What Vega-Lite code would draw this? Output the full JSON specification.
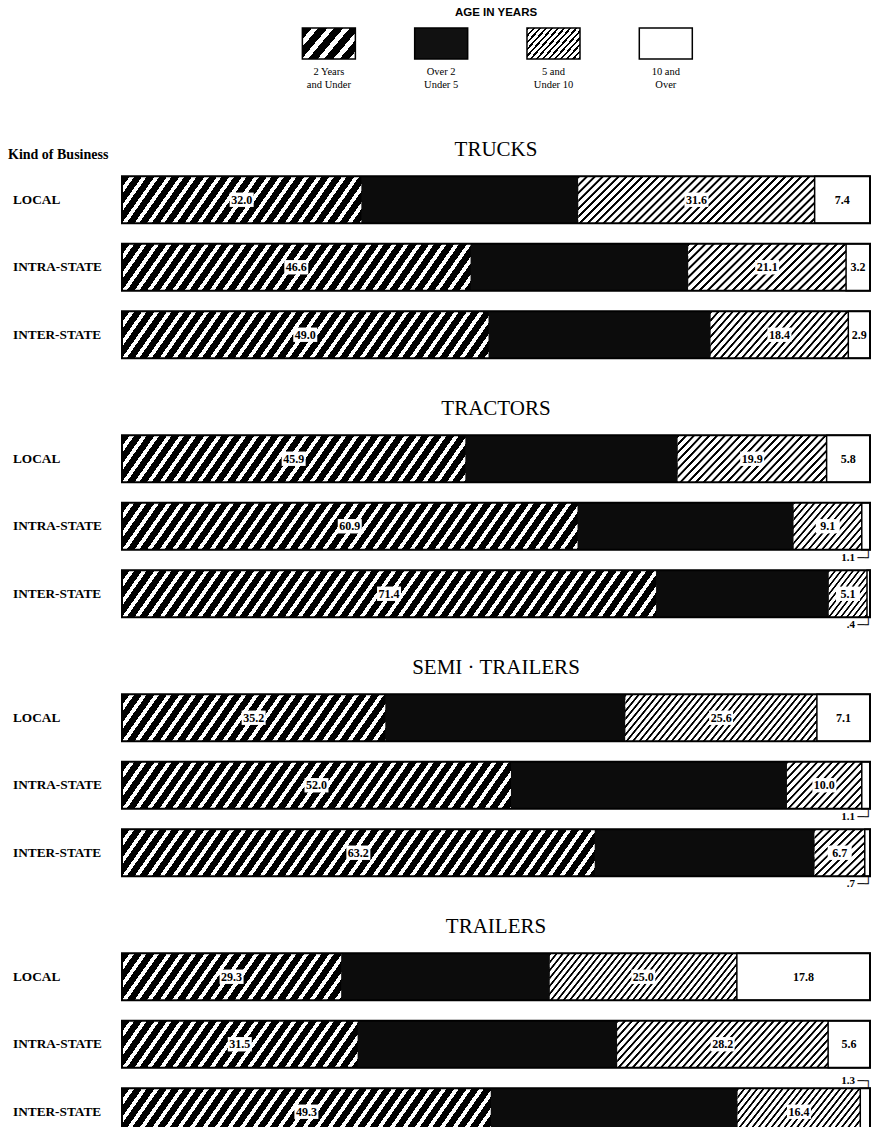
{
"$schema":"https://vega.github.io/schema/vega-lite/v6.json",
"padding":{"left":7,"top":6,"right":0,"bottom":0},
"bounds":"flush",
"spacing":56,
"datasets":{
"bars":[
{"section":"TRUCKS","kind":"LOCAL","k":1,"value":32.0},{"section":"TRUCKS","kind":"LOCAL","k":2,"value":29.0},{"section":"TRUCKS","kind":"LOCAL","k":3,"value":31.6},{"section":"TRUCKS","kind":"LOCAL","k":4,"value":7.4},
{"section":"TRUCKS","kind":"INTRA-STATE","k":1,"value":46.6},{"section":"TRUCKS","kind":"INTRA-STATE","k":2,"value":29.1},{"section":"TRUCKS","kind":"INTRA-STATE","k":3,"value":21.1},{"section":"TRUCKS","kind":"INTRA-STATE","k":4,"value":3.2},
{"section":"TRUCKS","kind":"INTER-STATE","k":1,"value":49.0},{"section":"TRUCKS","kind":"INTER-STATE","k":2,"value":29.7},{"section":"TRUCKS","kind":"INTER-STATE","k":3,"value":18.4},{"section":"TRUCKS","kind":"INTER-STATE","k":4,"value":2.9},
{"section":"TRACTORS","kind":"LOCAL","k":1,"value":45.9},{"section":"TRACTORS","kind":"LOCAL","k":2,"value":28.4},{"section":"TRACTORS","kind":"LOCAL","k":3,"value":19.9},{"section":"TRACTORS","kind":"LOCAL","k":4,"value":5.8},
{"section":"TRACTORS","kind":"INTRA-STATE","k":1,"value":60.9},{"section":"TRACTORS","kind":"INTRA-STATE","k":2,"value":28.9},{"section":"TRACTORS","kind":"INTRA-STATE","k":3,"value":9.1},{"section":"TRACTORS","kind":"INTRA-STATE","k":4,"value":1.1,"lbl":"1.1"},
{"section":"TRACTORS","kind":"INTER-STATE","k":1,"value":71.4},{"section":"TRACTORS","kind":"INTER-STATE","k":2,"value":23.1},{"section":"TRACTORS","kind":"INTER-STATE","k":3,"value":5.1},{"section":"TRACTORS","kind":"INTER-STATE","k":4,"value":0.4,"lbl":".4"},
{"section":"SEMI \u00b7 TRAILERS","kind":"LOCAL","k":1,"value":35.2},{"section":"SEMI \u00b7 TRAILERS","kind":"LOCAL","k":2,"value":32.1},{"section":"SEMI \u00b7 TRAILERS","kind":"LOCAL","k":3,"value":25.6},{"section":"SEMI \u00b7 TRAILERS","kind":"LOCAL","k":4,"value":7.1},
{"section":"SEMI \u00b7 TRAILERS","kind":"INTRA-STATE","k":1,"value":52.0},{"section":"SEMI \u00b7 TRAILERS","kind":"INTRA-STATE","k":2,"value":36.9},{"section":"SEMI \u00b7 TRAILERS","kind":"INTRA-STATE","k":3,"value":10.0},{"section":"SEMI \u00b7 TRAILERS","kind":"INTRA-STATE","k":4,"value":1.1,"lbl":"1.1"},
{"section":"SEMI \u00b7 TRAILERS","kind":"INTER-STATE","k":1,"value":63.2},{"section":"SEMI \u00b7 TRAILERS","kind":"INTER-STATE","k":2,"value":29.4},{"section":"SEMI \u00b7 TRAILERS","kind":"INTER-STATE","k":3,"value":6.7},{"section":"SEMI \u00b7 TRAILERS","kind":"INTER-STATE","k":4,"value":0.7,"lbl":".7"},
{"section":"TRAILERS","kind":"LOCAL","k":1,"value":29.3},{"section":"TRAILERS","kind":"LOCAL","k":2,"value":27.9},{"section":"TRAILERS","kind":"LOCAL","k":3,"value":25.0},{"section":"TRAILERS","kind":"LOCAL","k":4,"value":17.8},
{"section":"TRAILERS","kind":"INTRA-STATE","k":1,"value":31.5},{"section":"TRAILERS","kind":"INTRA-STATE","k":2,"value":34.7},{"section":"TRAILERS","kind":"INTRA-STATE","k":3,"value":28.2},{"section":"TRAILERS","kind":"INTRA-STATE","k":4,"value":5.6},
{"section":"TRAILERS","kind":"INTER-STATE","k":1,"value":49.3},{"section":"TRAILERS","kind":"INTER-STATE","k":2,"value":33.0},{"section":"TRAILERS","kind":"INTER-STATE","k":3,"value":16.4},{"section":"TRAILERS","kind":"INTER-STATE","k":4,"value":1.3,"lbl":"1.3"}
],
"legend":[
{"k":1,"label":"2 Years|and Under"},{"k":2,"label":"Over 2|Under 5"},{"k":3,"label":"5 and|Under 10"},{"k":4,"label":"10 and|Over"}
]
},
"data":{"name":"bars"},
"vconcat":[
{
"width":748,"height":82,
"data":{"name":"legend"},
"title":{"text":"AGE IN YEARS","font":"Liberation Sans","fontSize":11.5,"fontWeight":"bold","offset":9},
"encoding":{
"x":{"field":"k","type":"nominal","scale":{"domain":[0,1,2,3,4,5],"paddingInner":0.528,"paddingOuter":0.594,"align":0.51},"axis":{"title":"Kind of Business","labels":false,"ticks":false,"domain":false,"grid":false,"titleX":-114.5,"titleY":48.75,"titleAlign":"left","titleAngle":0,"titleBaseline":"alphabetic","titleFont":"Liberation Serif","titleFontSize":14,"titleFontWeight":"bold","titleColor":"#000"}},
"y":{"datum":"s","type":"nominal","scale":{"paddingInner":0,"paddingOuter":0.823,"align":0},"axis":null}
},
"layer":[
{"mark":{"type":"bar","stroke":"#000","strokeWidth":1.5},
"encoding":{"fill":{"condition":[
{"test":"datum.k==1","value":{"gradient":"linear","x1":0,"y1":0,"x2":1.2014,"y2":0.5897,"stops":[{"offset":0,"color":"#000"},{"offset":0.12,"color":"#000"},{"offset":0.12,"color":"#fff"},{"offset":0.2,"color":"#fff"},{"offset":0.2,"color":"#000"},{"offset":0.32,"color":"#000"},{"offset":0.32,"color":"#fff"},{"offset":0.4,"color":"#fff"},{"offset":0.4,"color":"#000"},{"offset":0.52,"color":"#000"},{"offset":0.52,"color":"#fff"},{"offset":0.6,"color":"#fff"},{"offset":0.6,"color":"#000"},{"offset":0.72,"color":"#000"},{"offset":0.72,"color":"#fff"},{"offset":0.8,"color":"#fff"},{"offset":0.8,"color":"#000"},{"offset":0.92,"color":"#000"},{"offset":0.92,"color":"#fff"},{"offset":1,"color":"#fff"}]}},
{"test":"datum.k==2","value":"#111"},
{"test":"datum.k==3","value":{"gradient":"linear","x1":0,"y1":0,"x2":1.1952,"y2":0.6295,"stops":[{"offset":0,"color":"#000"},{"offset":0.028,"color":"#000"},{"offset":0.028,"color":"#fff"},{"offset":0.075,"color":"#fff"},{"offset":0.075,"color":"#000"},{"offset":0.103,"color":"#000"},{"offset":0.103,"color":"#fff"},{"offset":0.15,"color":"#fff"},{"offset":0.15,"color":"#000"},{"offset":0.178,"color":"#000"},{"offset":0.178,"color":"#fff"},{"offset":0.225,"color":"#fff"},{"offset":0.225,"color":"#000"},{"offset":0.253,"color":"#000"},{"offset":0.253,"color":"#fff"},{"offset":0.3,"color":"#fff"},{"offset":0.3,"color":"#000"},{"offset":0.328,"color":"#000"},{"offset":0.328,"color":"#fff"},{"offset":0.375,"color":"#fff"},{"offset":0.375,"color":"#000"},{"offset":0.403,"color":"#000"},{"offset":0.403,"color":"#fff"},{"offset":0.45,"color":"#fff"},{"offset":0.45,"color":"#000"},{"offset":0.478,"color":"#000"},{"offset":0.478,"color":"#fff"},{"offset":0.525,"color":"#fff"},{"offset":0.525,"color":"#000"},{"offset":0.553,"color":"#000"},{"offset":0.553,"color":"#fff"},{"offset":0.6,"color":"#fff"},{"offset":0.6,"color":"#000"},{"offset":0.628,"color":"#000"},{"offset":0.628,"color":"#fff"},{"offset":0.675,"color":"#fff"},{"offset":0.675,"color":"#000"},{"offset":0.703,"color":"#000"},{"offset":0.703,"color":"#fff"},{"offset":0.75,"color":"#fff"},{"offset":0.75,"color":"#000"},{"offset":0.778,"color":"#000"},{"offset":0.778,"color":"#fff"},{"offset":0.825,"color":"#fff"},{"offset":0.825,"color":"#000"},{"offset":0.853,"color":"#000"},{"offset":0.853,"color":"#fff"},{"offset":0.9,"color":"#fff"},{"offset":0.9,"color":"#000"},{"offset":0.928,"color":"#000"},{"offset":0.928,"color":"#fff"},{"offset":0.975,"color":"#fff"},{"offset":0.975,"color":"#000"},{"offset":1,"color":"#000"}]}}
],"value":"#fff"}}},
{"mark":{"type":"text","baseline":"top","lineBreak":"|","dy":8.5,"font":"Liberation Serif","fontSize":10.5,"lineHeight":13,"color":"#000"},
"encoding":{"y":{"datum":"s","type":"nominal","bandPosition":1,"scale":{"paddingInner":0,"paddingOuter":0.823,"align":0},"axis":null},"text":{"field":"label"}}}
]
},
{
"title":"TRUCKS","width":748,"height":202.5,
"transform":[{"filter":{"field":"section","equal":"TRUCKS"}},{"stack":"value","groupby":["kind"],"sort":[{"field":"k"}],"as":["x0","x1"]}],
"encoding":{"y":{"field":"kind","type":"nominal","sort":["LOCAL","INTRA-STATE","INTER-STATE"],"title":null,"scale":{"paddingInner":0.304,"paddingOuter":0.152}}},
"layer":[
{"transform":[{"filter":"datum.k==1"}],"mark":{"type":"bar","style":"coarse"},"encoding":{"x":{"field":"x0","type":"quantitative","scale":{"domain":[0,100],"nice":false},"axis":null},"x2":{"datum":100}}},
{"transform":[{"filter":"datum.k==2"}],"mark":{"type":"bar","fill":"#0c0c0c"},"encoding":{"x":{"field":"x0","type":"quantitative"},"x2":{"field":"x1"}}},
{"transform":[{"filter":"datum.k==3&&datum.value>=13&&datum.value<23"}],"mark":{"type":"bar","style":"f3"},"encoding":{"x":{"field":"x0","type":"quantitative"},"x2":{"field":"x1"}}},
{"transform":[{"filter":"datum.k==3&&datum.value>=23"}],"mark":{"type":"bar","style":"f4"},"encoding":{"x":{"field":"x0","type":"quantitative"},"x2":{"field":"x1"}}},
{"transform":[{"filter":"datum.k==4"}],"mark":{"type":"bar","fill":"#fff","stroke":"#000","strokeWidth":1.5},"encoding":{"x":{"field":"x0","type":"quantitative"},"x2":{"field":"x1"}}},
{"transform":[{"filter":"datum.k==1"}],"mark":{"type":"bar","fillOpacity":0,"stroke":"#000","strokeWidth":2},"encoding":{"x":{"field":"x0","type":"quantitative"},"x2":{"datum":100}}},
{"mark":{"type":"point","shape":"M-1,-0.6H1V0.6H-1Z","filled":true,"fill":"#fff","opacity":1,"strokeWidth":0},"encoding":{"x":{"field":"value","type":"quantitative","stack":"zero","bandPosition":0.5},"order":{"field":"k","type":"quantitative"},"size":{"condition":{"test":"datum.k%2==0||datum.value<2","value":0},"value":576}}},
{"mark":{"type":"text","font":"Liberation Serif","fontWeight":"bold","fontSize":12,"color":"#000"},"encoding":{"x":{"field":"value","type":"quantitative","stack":"zero","bandPosition":0.5},"order":{"field":"k","type":"quantitative"},"text":{"condition":{"test":"datum.k==2||datum.value<2","value":""},"field":"value","type":"quantitative","format":".1f"}}}
]
},
{
"title":"TRACTORS","width":748,"height":202.5,
"transform":[{"filter":{"field":"section","equal":"TRACTORS"}},{"stack":"value","groupby":["kind"],"sort":[{"field":"k"}],"as":["x0","x1"]}],
"encoding":{"y":{"field":"kind","type":"nominal","sort":["LOCAL","INTRA-STATE","INTER-STATE"],"title":null,"scale":{"paddingInner":0.304,"paddingOuter":0.152}}},
"layer":[
{"transform":[{"filter":"datum.k==1"}],"mark":{"type":"bar","style":"coarse"},"encoding":{"x":{"field":"x0","type":"quantitative","scale":{"domain":[0,100],"nice":false},"axis":null},"x2":{"datum":100}}},
{"transform":[{"filter":"datum.k==2"}],"mark":{"type":"bar","fill":"#0c0c0c"},"encoding":{"x":{"field":"x0","type":"quantitative"},"x2":{"field":"x1"}}},
{"transform":[{"filter":"datum.k==3&&datum.value<8"}],"mark":{"type":"bar","style":"f1"},"encoding":{"x":{"field":"x0","type":"quantitative"},"x2":{"field":"x1"}}},
{"transform":[{"filter":"datum.k==3&&datum.value>=8&&datum.value<13"}],"mark":{"type":"bar","style":"f2"},"encoding":{"x":{"field":"x0","type":"quantitative"},"x2":{"field":"x1"}}},
{"transform":[{"filter":"datum.k==3&&datum.value>=13&&datum.value<23"}],"mark":{"type":"bar","style":"f3"},"encoding":{"x":{"field":"x0","type":"quantitative"},"x2":{"field":"x1"}}},
{"transform":[{"filter":"datum.k==4"}],"mark":{"type":"bar","fill":"#fff","stroke":"#000","strokeWidth":1.5},"encoding":{"x":{"field":"x0","type":"quantitative"},"x2":{"field":"x1"}}},
{"transform":[{"filter":"datum.k==1"}],"mark":{"type":"bar","fillOpacity":0,"stroke":"#000","strokeWidth":2},"encoding":{"x":{"field":"x0","type":"quantitative"},"x2":{"datum":100}}},
{"mark":{"type":"point","shape":"M-1,-0.6H1V0.6H-1Z","filled":true,"fill":"#fff","opacity":1,"strokeWidth":0},"encoding":{"x":{"field":"value","type":"quantitative","stack":"zero","bandPosition":0.5},"order":{"field":"k","type":"quantitative"},"size":{"condition":{"test":"datum.k%2==0||datum.value<2","value":0},"value":576}}},
{"mark":{"type":"text","font":"Liberation Serif","fontWeight":"bold","fontSize":12,"color":"#000"},"encoding":{"x":{"field":"value","type":"quantitative","stack":"zero","bandPosition":0.5},"order":{"field":"k","type":"quantitative"},"text":{"condition":{"test":"datum.k==2||datum.value<2","value":""},"field":"value","type":"quantitative","format":".1f"}}},
{"transform":[{"filter":"datum.k==4&&datum.value<2"}],"mark":{"type":"text","align":"right","baseline":"middle","dx":-15,"dy":8,"font":"Liberation Serif","fontWeight":"bold","fontSize":11,"color":"#000"},"encoding":{"x":{"datum":100,"type":"quantitative"},"y":{"field":"kind","type":"nominal","sort":["LOCAL","INTRA-STATE","INTER-STATE"],"title":null,"bandPosition":1,"scale":{"paddingInner":0.304,"paddingOuter":0.152}},"text":{"field":"lbl"}}},
{"transform":[{"filter":"datum.k==4&&datum.value<2"}],"mark":{"type":"text","align":"right","baseline":"alphabetic","dx":2,"dy":12,"font":"DejaVu Sans","fontSize":12,"color":"#000","text":"\u2500\u2518"},"encoding":{"x":{"datum":100,"type":"quantitative"},"y":{"field":"kind","type":"nominal","sort":["LOCAL","INTRA-STATE","INTER-STATE"],"title":null,"bandPosition":1,"scale":{"paddingInner":0.304,"paddingOuter":0.152}}}}
]
},
{
"title":"SEMI \u00b7 TRAILERS","width":748,"height":202.5,
"transform":[{"filter":{"field":"section","equal":"SEMI \u00b7 TRAILERS"}},{"stack":"value","groupby":["kind"],"sort":[{"field":"k"}],"as":["x0","x1"]}],
"encoding":{"y":{"field":"kind","type":"nominal","sort":["LOCAL","INTRA-STATE","INTER-STATE"],"title":null,"scale":{"paddingInner":0.304,"paddingOuter":0.152}}},
"layer":[
{"transform":[{"filter":"datum.k==1"}],"mark":{"type":"bar","style":"coarse"},"encoding":{"x":{"field":"x0","type":"quantitative","scale":{"domain":[0,100],"nice":false},"axis":null},"x2":{"datum":100}}},
{"transform":[{"filter":"datum.k==2"}],"mark":{"type":"bar","fill":"#0c0c0c"},"encoding":{"x":{"field":"x0","type":"quantitative"},"x2":{"field":"x1"}}},
{"transform":[{"filter":"datum.k==3&&datum.value<8"}],"mark":{"type":"bar","style":"f1"},"encoding":{"x":{"field":"x0","type":"quantitative"},"x2":{"field":"x1"}}},
{"transform":[{"filter":"datum.k==3&&datum.value>=8&&datum.value<13"}],"mark":{"type":"bar","style":"f2"},"encoding":{"x":{"field":"x0","type":"quantitative"},"x2":{"field":"x1"}}},
{"transform":[{"filter":"datum.k==3&&datum.value>=23"}],"mark":{"type":"bar","style":"f4"},"encoding":{"x":{"field":"x0","type":"quantitative"},"x2":{"field":"x1"}}},
{"transform":[{"filter":"datum.k==4"}],"mark":{"type":"bar","fill":"#fff","stroke":"#000","strokeWidth":1.5},"encoding":{"x":{"field":"x0","type":"quantitative"},"x2":{"field":"x1"}}},
{"transform":[{"filter":"datum.k==1"}],"mark":{"type":"bar","fillOpacity":0,"stroke":"#000","strokeWidth":2},"encoding":{"x":{"field":"x0","type":"quantitative"},"x2":{"datum":100}}},
{"mark":{"type":"point","shape":"M-1,-0.6H1V0.6H-1Z","filled":true,"fill":"#fff","opacity":1,"strokeWidth":0},"encoding":{"x":{"field":"value","type":"quantitative","stack":"zero","bandPosition":0.5},"order":{"field":"k","type":"quantitative"},"size":{"condition":{"test":"datum.k%2==0||datum.value<2","value":0},"value":576}}},
{"mark":{"type":"text","font":"Liberation Serif","fontWeight":"bold","fontSize":12,"color":"#000"},"encoding":{"x":{"field":"value","type":"quantitative","stack":"zero","bandPosition":0.5},"order":{"field":"k","type":"quantitative"},"text":{"condition":{"test":"datum.k==2||datum.value<2","value":""},"field":"value","type":"quantitative","format":".1f"}}},
{"transform":[{"filter":"datum.k==4&&datum.value<2"}],"mark":{"type":"text","align":"right","baseline":"middle","dx":-15,"dy":8,"font":"Liberation Serif","fontWeight":"bold","fontSize":11,"color":"#000"},"encoding":{"x":{"datum":100,"type":"quantitative"},"y":{"field":"kind","type":"nominal","sort":["LOCAL","INTRA-STATE","INTER-STATE"],"title":null,"bandPosition":1,"scale":{"paddingInner":0.304,"paddingOuter":0.152}},"text":{"field":"lbl"}}},
{"transform":[{"filter":"datum.k==4&&datum.value<2"}],"mark":{"type":"text","align":"right","baseline":"alphabetic","dx":2,"dy":12,"font":"DejaVu Sans","fontSize":12,"color":"#000","text":"\u2500\u2518"},"encoding":{"x":{"datum":100,"type":"quantitative"},"y":{"field":"kind","type":"nominal","sort":["LOCAL","INTRA-STATE","INTER-STATE"],"title":null,"bandPosition":1,"scale":{"paddingInner":0.304,"paddingOuter":0.152}}}}
]
},
{
"title":"TRAILERS","width":748,"height":202.5,
"transform":[{"filter":{"field":"section","equal":"TRAILERS"}},{"stack":"value","groupby":["kind"],"sort":[{"field":"k"}],"as":["x0","x1"]}],
"encoding":{"y":{"field":"kind","type":"nominal","sort":["LOCAL","INTRA-STATE","INTER-STATE"],"title":null,"scale":{"paddingInner":0.304,"paddingOuter":0.152}}},
"layer":[
{"transform":[{"filter":"datum.k==1"}],"mark":{"type":"bar","style":"coarse"},"encoding":{"x":{"field":"x0","type":"quantitative","scale":{"domain":[0,100],"nice":false},"axis":null},"x2":{"datum":100}}},
{"transform":[{"filter":"datum.k==2"}],"mark":{"type":"bar","fill":"#0c0c0c"},"encoding":{"x":{"field":"x0","type":"quantitative"},"x2":{"field":"x1"}}},
{"transform":[{"filter":"datum.k==3&&datum.value>=13&&datum.value<23"}],"mark":{"type":"bar","style":"f3"},"encoding":{"x":{"field":"x0","type":"quantitative"},"x2":{"field":"x1"}}},
{"transform":[{"filter":"datum.k==3&&datum.value>=23"}],"mark":{"type":"bar","style":"f4"},"encoding":{"x":{"field":"x0","type":"quantitative"},"x2":{"field":"x1"}}},
{"transform":[{"filter":"datum.k==4"}],"mark":{"type":"bar","fill":"#fff","stroke":"#000","strokeWidth":1.5},"encoding":{"x":{"field":"x0","type":"quantitative"},"x2":{"field":"x1"}}},
{"transform":[{"filter":"datum.k==1"}],"mark":{"type":"bar","fillOpacity":0,"stroke":"#000","strokeWidth":2},"encoding":{"x":{"field":"x0","type":"quantitative"},"x2":{"datum":100}}},
{"mark":{"type":"point","shape":"M-1,-0.6H1V0.6H-1Z","filled":true,"fill":"#fff","opacity":1,"strokeWidth":0},"encoding":{"x":{"field":"value","type":"quantitative","stack":"zero","bandPosition":0.5},"order":{"field":"k","type":"quantitative"},"size":{"condition":{"test":"datum.k%2==0||datum.value<2","value":0},"value":576}}},
{"mark":{"type":"text","font":"Liberation Serif","fontWeight":"bold","fontSize":12,"color":"#000"},"encoding":{"x":{"field":"value","type":"quantitative","stack":"zero","bandPosition":0.5},"order":{"field":"k","type":"quantitative"},"text":{"condition":{"test":"datum.k==2||datum.value<2","value":""},"field":"value","type":"quantitative","format":".1f"}}},
{"transform":[{"filter":"datum.k==4&&datum.value<2"}],"mark":{"type":"text","align":"right","baseline":"middle","dx":-15,"dy":-7,"font":"Liberation Serif","fontWeight":"bold","fontSize":11,"color":"#000"},"encoding":{"x":{"datum":100,"type":"quantitative"},"y":{"field":"kind","type":"nominal","sort":["LOCAL","INTRA-STATE","INTER-STATE"],"title":null,"bandPosition":0,"scale":{"paddingInner":0.304,"paddingOuter":0.152}},"text":{"field":"lbl"}}},
{"transform":[{"filter":"datum.k==4&&datum.value<2"}],"mark":{"type":"text","align":"right","baseline":"alphabetic","dx":2,"dy":-3,"font":"DejaVu Sans","fontSize":12,"color":"#000","text":"\u2500\u2510"},"encoding":{"x":{"datum":100,"type":"quantitative"},"y":{"field":"kind","type":"nominal","sort":["LOCAL","INTRA-STATE","INTER-STATE"],"title":null,"bandPosition":0,"scale":{"paddingInner":0.304,"paddingOuter":0.152}}}}
]
}
],
"config":{
"view":{"stroke":null},
"axis":{"grid":false},
"axisQuantitative":{"disable":true},
"axisY":{"labelAlign":"left","labelPadding":109.5,"ticks":false,"tickSize":0,"domain":false,"labelFont":"Liberation Serif","labelFontSize":13.3,"labelFontWeight":"bold","labelColor":"#000"},
"title":{"font":"Liberation Serif","fontSize":21,"fontWeight":"normal","anchor":"middle","frame":"group","offset":6.5,"baseline":"alphabetic","color":"#000"},
"style":{
"coarse":{"color":{"gradient":"linear","x1":0,"y1":0,"x2":1.042,"y2":0.0459,"stops":[
{"offset":0,"color":"#000"},{"offset":0.01,"color":"#000"},{"offset":0.01,"color":"#fff"},{"offset":0.016,"color":"#fff"},
{"offset":0.016,"color":"#000"},{"offset":0.026,"color":"#000"},{"offset":0.026,"color":"#fff"},{"offset":0.032,"color":"#fff"},
{"offset":0.032,"color":"#000"},{"offset":0.042,"color":"#000"},{"offset":0.042,"color":"#fff"},{"offset":0.048,"color":"#fff"},
{"offset":0.048,"color":"#000"},{"offset":0.058,"color":"#000"},{"offset":0.058,"color":"#fff"},{"offset":0.064,"color":"#fff"},
{"offset":0.064,"color":"#000"},{"offset":0.074,"color":"#000"},{"offset":0.074,"color":"#fff"},{"offset":0.08,"color":"#fff"},
{"offset":0.08,"color":"#000"},{"offset":0.09,"color":"#000"},{"offset":0.09,"color":"#fff"},{"offset":0.096,"color":"#fff"},
{"offset":0.096,"color":"#000"},{"offset":0.106,"color":"#000"},{"offset":0.106,"color":"#fff"},{"offset":0.112,"color":"#fff"},
{"offset":0.112,"color":"#000"},{"offset":0.122,"color":"#000"},{"offset":0.122,"color":"#fff"},{"offset":0.128,"color":"#fff"},
{"offset":0.128,"color":"#000"},{"offset":0.138,"color":"#000"},{"offset":0.138,"color":"#fff"},{"offset":0.144,"color":"#fff"},
{"offset":0.144,"color":"#000"},{"offset":0.154,"color":"#000"},{"offset":0.154,"color":"#fff"},{"offset":0.16,"color":"#fff"},
{"offset":0.16,"color":"#000"},{"offset":0.17,"color":"#000"},{"offset":0.17,"color":"#fff"},{"offset":0.176,"color":"#fff"},
{"offset":0.176,"color":"#000"},{"offset":0.186,"color":"#000"},{"offset":0.186,"color":"#fff"},{"offset":0.192,"color":"#fff"},
{"offset":0.192,"color":"#000"},{"offset":0.202,"color":"#000"},{"offset":0.202,"color":"#fff"},{"offset":0.208,"color":"#fff"},
{"offset":0.208,"color":"#000"},{"offset":0.218,"color":"#000"},{"offset":0.218,"color":"#fff"},{"offset":0.224,"color":"#fff"},
{"offset":0.224,"color":"#000"},{"offset":0.234,"color":"#000"},{"offset":0.234,"color":"#fff"},{"offset":0.24,"color":"#fff"},
{"offset":0.24,"color":"#000"},{"offset":0.25,"color":"#000"},{"offset":0.25,"color":"#fff"},{"offset":0.256,"color":"#fff"},
{"offset":0.256,"color":"#000"},{"offset":0.266,"color":"#000"},{"offset":0.266,"color":"#fff"},{"offset":0.272,"color":"#fff"},
{"offset":0.272,"color":"#000"},{"offset":0.282,"color":"#000"},{"offset":0.282,"color":"#fff"},{"offset":0.288,"color":"#fff"},
{"offset":0.288,"color":"#000"},{"offset":0.298,"color":"#000"},{"offset":0.298,"color":"#fff"},{"offset":0.304,"color":"#fff"},
{"offset":0.304,"color":"#000"},{"offset":0.314,"color":"#000"},{"offset":0.314,"color":"#fff"},{"offset":0.32,"color":"#fff"},
{"offset":0.32,"color":"#000"},{"offset":0.33,"color":"#000"},{"offset":0.33,"color":"#fff"},{"offset":0.336,"color":"#fff"},
{"offset":0.336,"color":"#000"},{"offset":0.346,"color":"#000"},{"offset":0.346,"color":"#fff"},{"offset":0.352,"color":"#fff"},
{"offset":0.352,"color":"#000"},{"offset":0.362,"color":"#000"},{"offset":0.362,"color":"#fff"},{"offset":0.368,"color":"#fff"},
{"offset":0.368,"color":"#000"},{"offset":0.378,"color":"#000"},{"offset":0.378,"color":"#fff"},{"offset":0.384,"color":"#fff"},
{"offset":0.384,"color":"#000"},{"offset":0.394,"color":"#000"},{"offset":0.394,"color":"#fff"},{"offset":0.4,"color":"#fff"},
{"offset":0.4,"color":"#000"},{"offset":0.41,"color":"#000"},{"offset":0.41,"color":"#fff"},{"offset":0.416,"color":"#fff"},
{"offset":0.416,"color":"#000"},{"offset":0.426,"color":"#000"},{"offset":0.426,"color":"#fff"},{"offset":0.432,"color":"#fff"},
{"offset":0.432,"color":"#000"},{"offset":0.442,"color":"#000"},{"offset":0.442,"color":"#fff"},{"offset":0.448,"color":"#fff"},
{"offset":0.448,"color":"#000"},{"offset":0.458,"color":"#000"},{"offset":0.458,"color":"#fff"},{"offset":0.464,"color":"#fff"},
{"offset":0.464,"color":"#000"},{"offset":0.474,"color":"#000"},{"offset":0.474,"color":"#fff"},{"offset":0.48,"color":"#fff"},
{"offset":0.48,"color":"#000"},{"offset":0.49,"color":"#000"},{"offset":0.49,"color":"#fff"},{"offset":0.496,"color":"#fff"},
{"offset":0.496,"color":"#000"},{"offset":0.506,"color":"#000"},{"offset":0.506,"color":"#fff"},{"offset":0.512,"color":"#fff"},
{"offset":0.512,"color":"#000"},{"offset":0.522,"color":"#000"},{"offset":0.522,"color":"#fff"},{"offset":0.528,"color":"#fff"},
{"offset":0.528,"color":"#000"},{"offset":0.538,"color":"#000"},{"offset":0.538,"color":"#fff"},{"offset":0.544,"color":"#fff"},
{"offset":0.544,"color":"#000"},{"offset":0.554,"color":"#000"},{"offset":0.554,"color":"#fff"},{"offset":0.56,"color":"#fff"},
{"offset":0.56,"color":"#000"},{"offset":0.57,"color":"#000"},{"offset":0.57,"color":"#fff"},{"offset":0.576,"color":"#fff"},
{"offset":0.576,"color":"#000"},{"offset":0.586,"color":"#000"},{"offset":0.586,"color":"#fff"},{"offset":0.592,"color":"#fff"},
{"offset":0.592,"color":"#000"},{"offset":0.602,"color":"#000"},{"offset":0.602,"color":"#fff"},{"offset":0.608,"color":"#fff"},
{"offset":0.608,"color":"#000"},{"offset":0.618,"color":"#000"},{"offset":0.618,"color":"#fff"},{"offset":0.624,"color":"#fff"},
{"offset":0.624,"color":"#000"},{"offset":0.634,"color":"#000"},{"offset":0.634,"color":"#fff"},{"offset":0.64,"color":"#fff"},
{"offset":0.64,"color":"#000"},{"offset":0.65,"color":"#000"},{"offset":0.65,"color":"#fff"},{"offset":0.656,"color":"#fff"},
{"offset":0.656,"color":"#000"},{"offset":0.666,"color":"#000"},{"offset":0.666,"color":"#fff"},{"offset":0.672,"color":"#fff"},
{"offset":0.672,"color":"#000"},{"offset":0.682,"color":"#000"},{"offset":0.682,"color":"#fff"},{"offset":0.688,"color":"#fff"},
{"offset":0.688,"color":"#000"},{"offset":0.698,"color":"#000"},{"offset":0.698,"color":"#fff"},{"offset":0.704,"color":"#fff"},
{"offset":0.704,"color":"#000"},{"offset":0.714,"color":"#000"},{"offset":0.714,"color":"#fff"},{"offset":0.72,"color":"#fff"},
{"offset":0.72,"color":"#000"},{"offset":0.73,"color":"#000"},{"offset":0.73,"color":"#fff"},{"offset":0.736,"color":"#fff"},
{"offset":0.736,"color":"#000"},{"offset":0.746,"color":"#000"},{"offset":0.746,"color":"#fff"},{"offset":0.752,"color":"#fff"},
{"offset":0.752,"color":"#000"},{"offset":0.762,"color":"#000"},{"offset":0.762,"color":"#fff"},{"offset":0.768,"color":"#fff"},
{"offset":0.768,"color":"#000"},{"offset":0.778,"color":"#000"},{"offset":0.778,"color":"#fff"},{"offset":0.784,"color":"#fff"},
{"offset":0.784,"color":"#000"},{"offset":0.794,"color":"#000"},{"offset":0.794,"color":"#fff"},{"offset":0.8,"color":"#fff"},
{"offset":0.8,"color":"#000"},{"offset":0.81,"color":"#000"},{"offset":0.81,"color":"#fff"},{"offset":0.816,"color":"#fff"},
{"offset":0.816,"color":"#000"},{"offset":0.826,"color":"#000"},{"offset":0.826,"color":"#fff"},{"offset":0.832,"color":"#fff"},
{"offset":0.832,"color":"#000"},{"offset":0.842,"color":"#000"},{"offset":0.842,"color":"#fff"},{"offset":0.848,"color":"#fff"},
{"offset":0.848,"color":"#000"},{"offset":0.858,"color":"#000"},{"offset":0.858,"color":"#fff"},{"offset":0.864,"color":"#fff"},
{"offset":0.864,"color":"#000"},{"offset":0.874,"color":"#000"},{"offset":0.874,"color":"#fff"},{"offset":0.88,"color":"#fff"},
{"offset":0.88,"color":"#000"},{"offset":0.89,"color":"#000"},{"offset":0.89,"color":"#fff"},{"offset":0.896,"color":"#fff"},
{"offset":0.896,"color":"#000"},{"offset":0.906,"color":"#000"},{"offset":0.906,"color":"#fff"},{"offset":0.912,"color":"#fff"},
{"offset":0.912,"color":"#000"},{"offset":0.922,"color":"#000"},{"offset":0.922,"color":"#fff"},{"offset":0.928,"color":"#fff"},
{"offset":0.928,"color":"#000"},{"offset":0.938,"color":"#000"},{"offset":0.938,"color":"#fff"},{"offset":0.944,"color":"#fff"},
{"offset":0.944,"color":"#000"},{"offset":0.954,"color":"#000"},{"offset":0.954,"color":"#fff"},{"offset":0.96,"color":"#fff"},
{"offset":0.96,"color":"#000"},{"offset":0.97,"color":"#000"},{"offset":0.97,"color":"#fff"},{"offset":0.976,"color":"#fff"},
{"offset":0.976,"color":"#000"},{"offset":0.986,"color":"#000"},{"offset":0.986,"color":"#fff"},{"offset":0.992,"color":"#fff"},
{"offset":0.992,"color":"#000"},{"offset":1,"color":"#000"}
]}},
"f1":{"color":{"gradient":"linear","x1":0,"y1":0,"x2":1.0202,"y2":0.979,"stops":[
{"offset":0,"color":"#000"},{"offset":0.018,"color":"#000"},{"offset":0.027,"color":"#fff"},{"offset":0.071,"color":"#fff"},
{"offset":0.08,"color":"#000"},{"offset":0.098,"color":"#000"},{"offset":0.107,"color":"#fff"},{"offset":0.151,"color":"#fff"},
{"offset":0.16,"color":"#000"},{"offset":0.178,"color":"#000"},{"offset":0.187,"color":"#fff"},{"offset":0.231,"color":"#fff"},
{"offset":0.24,"color":"#000"},{"offset":0.258,"color":"#000"},{"offset":0.267,"color":"#fff"},{"offset":0.311,"color":"#fff"},
{"offset":0.32,"color":"#000"},{"offset":0.338,"color":"#000"},{"offset":0.347,"color":"#fff"},{"offset":0.391,"color":"#fff"},
{"offset":0.4,"color":"#000"},{"offset":0.418,"color":"#000"},{"offset":0.427,"color":"#fff"},{"offset":0.471,"color":"#fff"},
{"offset":0.48,"color":"#000"},{"offset":0.498,"color":"#000"},{"offset":0.507,"color":"#fff"},{"offset":0.551,"color":"#fff"},
{"offset":0.56,"color":"#000"},{"offset":0.578,"color":"#000"},{"offset":0.587,"color":"#fff"},{"offset":0.631,"color":"#fff"},
{"offset":0.64,"color":"#000"},{"offset":0.658,"color":"#000"},{"offset":0.667,"color":"#fff"},{"offset":0.711,"color":"#fff"},
{"offset":0.72,"color":"#000"},{"offset":0.738,"color":"#000"},{"offset":0.747,"color":"#fff"},{"offset":0.791,"color":"#fff"},
{"offset":0.8,"color":"#000"},{"offset":0.818,"color":"#000"},{"offset":0.827,"color":"#fff"},{"offset":0.871,"color":"#fff"},
{"offset":0.88,"color":"#000"},{"offset":0.898,"color":"#000"},{"offset":0.907,"color":"#fff"},{"offset":0.951,"color":"#fff"},
{"offset":0.96,"color":"#000"},{"offset":0.978,"color":"#000"},{"offset":0.987,"color":"#fff"},{"offset":1,"color":"#fff"}
]}},
"f2":{"color":{"gradient":"linear","x1":0,"y1":0,"x2":1.1787,"y2":0.6984,"stops":[
{"offset":0,"color":"#000"},{"offset":0.014,"color":"#000"},{"offset":0.021,"color":"#fff"},{"offset":0.0555,"color":"#fff"},
{"offset":0.0625,"color":"#000"},{"offset":0.0765,"color":"#000"},{"offset":0.0835,"color":"#fff"},{"offset":0.118,"color":"#fff"},
{"offset":0.125,"color":"#000"},{"offset":0.139,"color":"#000"},{"offset":0.146,"color":"#fff"},{"offset":0.1805,"color":"#fff"},
{"offset":0.1875,"color":"#000"},{"offset":0.2015,"color":"#000"},{"offset":0.2085,"color":"#fff"},{"offset":0.243,"color":"#fff"},
{"offset":0.25,"color":"#000"},{"offset":0.264,"color":"#000"},{"offset":0.271,"color":"#fff"},{"offset":0.3055,"color":"#fff"},
{"offset":0.3125,"color":"#000"},{"offset":0.3265,"color":"#000"},{"offset":0.3335,"color":"#fff"},{"offset":0.368,"color":"#fff"},
{"offset":0.375,"color":"#000"},{"offset":0.389,"color":"#000"},{"offset":0.396,"color":"#fff"},{"offset":0.4305,"color":"#fff"},
{"offset":0.4375,"color":"#000"},{"offset":0.4515,"color":"#000"},{"offset":0.4585,"color":"#fff"},{"offset":0.493,"color":"#fff"},
{"offset":0.5,"color":"#000"},{"offset":0.514,"color":"#000"},{"offset":0.521,"color":"#fff"},{"offset":0.5555,"color":"#fff"},
{"offset":0.5625,"color":"#000"},{"offset":0.5765,"color":"#000"},{"offset":0.5835,"color":"#fff"},{"offset":0.618,"color":"#fff"},
{"offset":0.625,"color":"#000"},{"offset":0.639,"color":"#000"},{"offset":0.646,"color":"#fff"},{"offset":0.6805,"color":"#fff"},
{"offset":0.6875,"color":"#000"},{"offset":0.7015,"color":"#000"},{"offset":0.7085,"color":"#fff"},{"offset":0.743,"color":"#fff"},
{"offset":0.75,"color":"#000"},{"offset":0.764,"color":"#000"},{"offset":0.771,"color":"#fff"},{"offset":0.8055,"color":"#fff"},
{"offset":0.8125,"color":"#000"},{"offset":0.8265,"color":"#000"},{"offset":0.8335,"color":"#fff"},{"offset":0.868,"color":"#fff"},
{"offset":0.875,"color":"#000"},{"offset":0.889,"color":"#000"},{"offset":0.896,"color":"#fff"},{"offset":0.9305,"color":"#fff"},
{"offset":0.9375,"color":"#000"},{"offset":0.9515,"color":"#000"},{"offset":0.9585,"color":"#fff"},{"offset":1,"color":"#fff"}
]}},
"f3":{"color":{"gradient":"linear","x1":0,"y1":0,"x2":1.1929,"y2":0.359,"stops":[
{"offset":0,"color":"#000"},{"offset":0.01,"color":"#000"},{"offset":0.014,"color":"#fff"},{"offset":0.036,"color":"#fff"},
{"offset":0.04,"color":"#000"},{"offset":0.05,"color":"#000"},{"offset":0.054,"color":"#fff"},{"offset":0.076,"color":"#fff"},
{"offset":0.08,"color":"#000"},{"offset":0.09,"color":"#000"},{"offset":0.094,"color":"#fff"},{"offset":0.116,"color":"#fff"},
{"offset":0.12,"color":"#000"},{"offset":0.13,"color":"#000"},{"offset":0.134,"color":"#fff"},{"offset":0.156,"color":"#fff"},
{"offset":0.16,"color":"#000"},{"offset":0.17,"color":"#000"},{"offset":0.174,"color":"#fff"},{"offset":0.196,"color":"#fff"},
{"offset":0.2,"color":"#000"},{"offset":0.21,"color":"#000"},{"offset":0.214,"color":"#fff"},{"offset":0.236,"color":"#fff"},
{"offset":0.24,"color":"#000"},{"offset":0.25,"color":"#000"},{"offset":0.254,"color":"#fff"},{"offset":0.276,"color":"#fff"},
{"offset":0.28,"color":"#000"},{"offset":0.29,"color":"#000"},{"offset":0.294,"color":"#fff"},{"offset":0.316,"color":"#fff"},
{"offset":0.32,"color":"#000"},{"offset":0.33,"color":"#000"},{"offset":0.334,"color":"#fff"},{"offset":0.356,"color":"#fff"},
{"offset":0.36,"color":"#000"},{"offset":0.37,"color":"#000"},{"offset":0.374,"color":"#fff"},{"offset":0.396,"color":"#fff"},
{"offset":0.4,"color":"#000"},{"offset":0.41,"color":"#000"},{"offset":0.414,"color":"#fff"},{"offset":0.436,"color":"#fff"},
{"offset":0.44,"color":"#000"},{"offset":0.45,"color":"#000"},{"offset":0.454,"color":"#fff"},{"offset":0.476,"color":"#fff"},
{"offset":0.48,"color":"#000"},{"offset":0.49,"color":"#000"},{"offset":0.494,"color":"#fff"},{"offset":0.516,"color":"#fff"},
{"offset":0.52,"color":"#000"},{"offset":0.53,"color":"#000"},{"offset":0.534,"color":"#fff"},{"offset":0.556,"color":"#fff"},
{"offset":0.56,"color":"#000"},{"offset":0.57,"color":"#000"},{"offset":0.574,"color":"#fff"},{"offset":0.596,"color":"#fff"},
{"offset":0.6,"color":"#000"},{"offset":0.61,"color":"#000"},{"offset":0.614,"color":"#fff"},{"offset":0.636,"color":"#fff"},
{"offset":0.64,"color":"#000"},{"offset":0.65,"color":"#000"},{"offset":0.654,"color":"#fff"},{"offset":0.676,"color":"#fff"},
{"offset":0.68,"color":"#000"},{"offset":0.69,"color":"#000"},{"offset":0.694,"color":"#fff"},{"offset":0.716,"color":"#fff"},
{"offset":0.72,"color":"#000"},{"offset":0.73,"color":"#000"},{"offset":0.734,"color":"#fff"},{"offset":0.756,"color":"#fff"},
{"offset":0.76,"color":"#000"},{"offset":0.77,"color":"#000"},{"offset":0.774,"color":"#fff"},{"offset":0.796,"color":"#fff"},
{"offset":0.8,"color":"#000"},{"offset":0.81,"color":"#000"},{"offset":0.814,"color":"#fff"},{"offset":0.836,"color":"#fff"},
{"offset":0.84,"color":"#000"},{"offset":0.85,"color":"#000"},{"offset":0.854,"color":"#fff"},{"offset":0.876,"color":"#fff"},
{"offset":0.88,"color":"#000"},{"offset":0.89,"color":"#000"},{"offset":0.894,"color":"#fff"},{"offset":0.916,"color":"#fff"},
{"offset":0.92,"color":"#000"},{"offset":0.93,"color":"#000"},{"offset":0.934,"color":"#fff"},{"offset":0.956,"color":"#fff"},
{"offset":0.96,"color":"#000"},{"offset":0.97,"color":"#000"},{"offset":0.974,"color":"#fff"},{"offset":1,"color":"#fff"}
]}},
"f4":{"color":{"gradient":"linear","x1":0,"y1":0,"x2":1.1538,"y2":0.2307,"stops":[
{"offset":0,"color":"#000"},{"offset":0.007,"color":"#000"},{"offset":0.01,"color":"#fff"},{"offset":0.025,"color":"#fff"},
{"offset":0.028,"color":"#000"},{"offset":0.035,"color":"#000"},{"offset":0.038,"color":"#fff"},{"offset":0.053,"color":"#fff"},
{"offset":0.056,"color":"#000"},{"offset":0.063,"color":"#000"},{"offset":0.066,"color":"#fff"},{"offset":0.081,"color":"#fff"},
{"offset":0.084,"color":"#000"},{"offset":0.091,"color":"#000"},{"offset":0.094,"color":"#fff"},{"offset":0.109,"color":"#fff"},
{"offset":0.112,"color":"#000"},{"offset":0.119,"color":"#000"},{"offset":0.122,"color":"#fff"},{"offset":0.137,"color":"#fff"},
{"offset":0.14,"color":"#000"},{"offset":0.147,"color":"#000"},{"offset":0.15,"color":"#fff"},{"offset":0.165,"color":"#fff"},
{"offset":0.168,"color":"#000"},{"offset":0.175,"color":"#000"},{"offset":0.178,"color":"#fff"},{"offset":0.193,"color":"#fff"},
{"offset":0.196,"color":"#000"},{"offset":0.203,"color":"#000"},{"offset":0.206,"color":"#fff"},{"offset":0.221,"color":"#fff"},
{"offset":0.224,"color":"#000"},{"offset":0.231,"color":"#000"},{"offset":0.234,"color":"#fff"},{"offset":0.249,"color":"#fff"},
{"offset":0.252,"color":"#000"},{"offset":0.259,"color":"#000"},{"offset":0.262,"color":"#fff"},{"offset":0.277,"color":"#fff"},
{"offset":0.28,"color":"#000"},{"offset":0.287,"color":"#000"},{"offset":0.29,"color":"#fff"},{"offset":0.305,"color":"#fff"},
{"offset":0.308,"color":"#000"},{"offset":0.315,"color":"#000"},{"offset":0.318,"color":"#fff"},{"offset":0.333,"color":"#fff"},
{"offset":0.336,"color":"#000"},{"offset":0.343,"color":"#000"},{"offset":0.346,"color":"#fff"},{"offset":0.361,"color":"#fff"},
{"offset":0.364,"color":"#000"},{"offset":0.371,"color":"#000"},{"offset":0.374,"color":"#fff"},{"offset":0.389,"color":"#fff"},
{"offset":0.392,"color":"#000"},{"offset":0.399,"color":"#000"},{"offset":0.402,"color":"#fff"},{"offset":0.417,"color":"#fff"},
{"offset":0.42,"color":"#000"},{"offset":0.427,"color":"#000"},{"offset":0.43,"color":"#fff"},{"offset":0.445,"color":"#fff"},
{"offset":0.448,"color":"#000"},{"offset":0.455,"color":"#000"},{"offset":0.458,"color":"#fff"},{"offset":0.473,"color":"#fff"},
{"offset":0.476,"color":"#000"},{"offset":0.483,"color":"#000"},{"offset":0.486,"color":"#fff"},{"offset":0.501,"color":"#fff"},
{"offset":0.504,"color":"#000"},{"offset":0.511,"color":"#000"},{"offset":0.514,"color":"#fff"},{"offset":0.529,"color":"#fff"},
{"offset":0.532,"color":"#000"},{"offset":0.539,"color":"#000"},{"offset":0.542,"color":"#fff"},{"offset":0.557,"color":"#fff"},
{"offset":0.56,"color":"#000"},{"offset":0.567,"color":"#000"},{"offset":0.57,"color":"#fff"},{"offset":0.585,"color":"#fff"},
{"offset":0.588,"color":"#000"},{"offset":0.595,"color":"#000"},{"offset":0.598,"color":"#fff"},{"offset":0.613,"color":"#fff"},
{"offset":0.616,"color":"#000"},{"offset":0.623,"color":"#000"},{"offset":0.626,"color":"#fff"},{"offset":0.641,"color":"#fff"},
{"offset":0.644,"color":"#000"},{"offset":0.651,"color":"#000"},{"offset":0.654,"color":"#fff"},{"offset":0.669,"color":"#fff"},
{"offset":0.672,"color":"#000"},{"offset":0.679,"color":"#000"},{"offset":0.682,"color":"#fff"},{"offset":0.697,"color":"#fff"},
{"offset":0.7,"color":"#000"},{"offset":0.707,"color":"#000"},{"offset":0.71,"color":"#fff"},{"offset":0.725,"color":"#fff"},
{"offset":0.728,"color":"#000"},{"offset":0.735,"color":"#000"},{"offset":0.738,"color":"#fff"},{"offset":0.753,"color":"#fff"},
{"offset":0.756,"color":"#000"},{"offset":0.763,"color":"#000"},{"offset":0.766,"color":"#fff"},{"offset":0.781,"color":"#fff"},
{"offset":0.784,"color":"#000"},{"offset":0.791,"color":"#000"},{"offset":0.794,"color":"#fff"},{"offset":0.809,"color":"#fff"},
{"offset":0.812,"color":"#000"},{"offset":0.819,"color":"#000"},{"offset":0.822,"color":"#fff"},{"offset":0.837,"color":"#fff"},
{"offset":0.84,"color":"#000"},{"offset":0.847,"color":"#000"},{"offset":0.85,"color":"#fff"},{"offset":0.865,"color":"#fff"},
{"offset":0.868,"color":"#000"},{"offset":0.875,"color":"#000"},{"offset":0.878,"color":"#fff"},{"offset":0.893,"color":"#fff"},
{"offset":0.896,"color":"#000"},{"offset":0.903,"color":"#000"},{"offset":0.906,"color":"#fff"},{"offset":0.921,"color":"#fff"},
{"offset":0.924,"color":"#000"},{"offset":0.931,"color":"#000"},{"offset":0.934,"color":"#fff"},{"offset":0.949,"color":"#fff"},
{"offset":0.952,"color":"#000"},{"offset":0.959,"color":"#000"},{"offset":0.962,"color":"#fff"},{"offset":0.977,"color":"#fff"},
{"offset":0.98,"color":"#000"},{"offset":0.987,"color":"#000"},{"offset":0.99,"color":"#fff"},{"offset":1,"color":"#fff"}
]}}
}
}
}
